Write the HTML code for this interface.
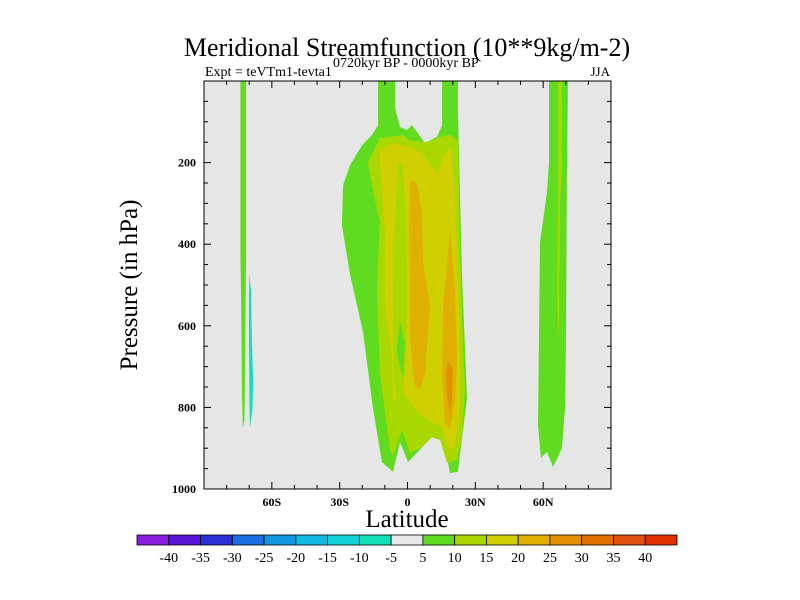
<!DOCTYPE html>
<html><head><meta charset="utf-8"><style>
body{margin:0;background:#fff;}
svg{display:block;font-family:"Liberation Serif",serif;}
</style></head><body>
<svg id="chart" width="800" height="600" viewBox="0 0 800 600">
<text x="407" y="56" font-size="26" text-anchor="middle">Meridional Streamfunction (10**9kg/m-2)</text>
<text x="205" y="76" font-size="14">Expt = teVTm1-tevta1</text>
<text x="333" y="67" font-size="14">0720kyr BP - 0000kyr BP</text>
<text x="610" y="76" font-size="13" text-anchor="end">JJA</text>
<rect x="204" y="81" width="407" height="408" fill="#e6e6e6"/>
<g id="fields"></g>
<rect x="204" y="81" width="407" height="408" fill="none" stroke="#000" stroke-width="1"/>
<g id="axes"></g>
<text x="407" y="527" font-size="25" text-anchor="middle">Latitude</text>
<text transform="translate(137,285) rotate(-90)" font-size="25" text-anchor="middle">Pressure (in hPa)</text>
<g id="colorbar"></g>
</svg>
<script>
const levels = [-40,-35,-30,-25,-20,-15,-10,-5,5,10,15,20,25,30,35,40];
const levelColors = ["#8a1ee0","#5a14d8","#2a30d8","#1a6ee0","#1098e0","#10b8e0","#10d0d8","#10e0b8","#e8e8e8","#60dc20","#a8d800","#d0d000","#e0b000","#e09000","#e07000","#e05010","#e03000"];
const cbLabels = ["-40","-35","-30","-25","-20","-15","-10","-5","5","10","15","20","25","30","35","40"];
const latTicks = [-60,-30,0,30,60];
const latTickLabels = ["60S","30S","0","30N","60N"];
const presTicks = [200,400,600,800,1000];
// contour regions: [level index, [[lat, hPa], ...]]
const regionLevels = [9,10,11,10,9,12,12,13,9,7,9,10];
const regionShapes = [
 [[-13,0],[-13,108],[-15.7,132],[-20.1,157],[-25.4,206],[-28.5,255],[-29,353],[-25.4,475],[-19.7,615],[-15.3,801],[-11.3,934],[-6.4,958],[-3.3,885],[0.2,934],[8.6,885],[14.4,836],[18.8,961],[22.3,958],[26.3,777],[24.1,475],[22.3,66],[22.3,0],[15.3,0],[15.3,108],[13,137],[7.7,152],[2,108],[-0.2,120],[-3.3,113],[-5.5,66],[-5.5,0]],
 [[-17.5,199],[-12.2,140],[-2,132],[1.1,145],[8.6,150],[14.4,137],[18.8,132],[22.3,145],[23.2,414],[24.5,635],[25.4,757],[24.1,873],[21.9,929],[17.5,936],[14.4,880],[10.8,873],[6.4,897],[1.1,912],[-2.4,855],[-6.4,917],[-7.7,904],[-12.2,716],[-13.5,512],[-12.2,348],[-16.6,230]],
 [[-12.2,169],[-6.4,152],[1.1,164],[6.4,176],[10.8,211],[13.5,225],[15.7,186],[18.8,162],[21,284],[23.2,593],[23.2,799],[21,897],[17.9,904],[15.3,848],[10.8,836],[4.6,814],[0.2,782],[-2.4,757],[-6.4,787],[-6.9,676],[-10,544],[-10,365],[-11.3,267],[-12.2,201]],
 [[-4.2,201],[-2,206],[-0.7,341],[-0.2,537],[-0.7,684],[-2,770],[-4.2,782],[-6,733],[-6.4,537],[-5.5,341]],
 [[-3.3,590],[-1.1,640],[-1.9,729],[-4.9,664]],
 [[1.1,243],[4.2,250],[6.4,323],[6.9,446],[10,554],[7.7,716],[5.5,757],[3.3,750],[1.1,635],[1.1,512],[0.7,365]],
 [[18.8,365],[17.5,446],[15.7,554],[15.3,716],[16.6,838],[18.8,855],[21,782],[21.9,677],[21,512]],
 [[17.9,684],[20.1,708],[19.7,782],[18.8,814],[17.5,770],[17,721]],
 [[-73.9,0],[-71.4,0],[-71.4,426],[-71.6,537],[-71.9,733],[-72.1,831],[-72.8,850],[-73.2,782],[-73.6,537],[-73.9,426]],
 [[-69.9,475],[-69.2,512],[-68.8,635],[-68.3,733],[-68.6,806],[-69.7,850],[-69.9,782],[-70.1,635],[-70.1,537]],
 [[62.6,0],[71,0],[70.5,230],[70.1,640],[69.7,801],[68.3,900],[64.4,946],[61.7,909],[59,924],[57.7,843],[58.6,395],[61.7,272],[62.6,200]],
 [[66.7,0],[68.3,0],[68.3,230],[67.4,292],[66.9,640],[66.3,537],[66.7,230]]
];
const NS = "http://www.w3.org/2000/svg";
const X0=204, X1=611, Y0=81, Y1=489;
function xs(lat){return X0+(lat+90)/180*(X1-X0);}
function ys(p){return Y0+p/1000*(Y1-Y0);}
function mk(tag, attrs, parent){const e=document.createElementNS(NS,tag);for(const k in attrs)e.setAttribute(k,attrs[k]);parent.appendChild(e);return e;}
const fields=document.getElementById('fields');
regionShapes.forEach((shape,i)=>{
  const pts=shape.map(d=>xs(d[0]).toFixed(1)+','+ys(d[1]).toFixed(1)).join(' ');
  const el=mk('polygon',{points:pts,fill:levelColors[regionLevels[i]]},fields);
  
  
});
const axes=document.getElementById('axes');
for(let lat=-80;lat<=80;lat+=10){
  const major=lat%30===0;
  const L=major?7:4;
  const x=xs(lat);
  const t1=mk('line',{x1:x,x2:x,y1:Y1,y2:Y1-L,stroke:'#000'},axes);
  
  
  const t2=mk('line',{x1:x,x2:x,y1:Y0,y2:Y0+L,stroke:'#000'},axes);
  
  
}
latTicks.forEach((lat,i)=>{
  const t=mk('text',{x:xs(lat),y:Y1+17,'font-size':12,'font-weight':'bold','text-anchor':'middle'},axes);
  t.textContent=latTickLabels[i];
  
  
});
for(let p=50;p<1000;p+=50){
  const major=p%200===0;
  const L=major?7:4;
  const y=ys(p);
  const t1=mk('line',{x1:X0,x2:X0+L,y1:y,y2:y,stroke:'#000'},axes);
  
  
  const t2=mk('line',{x1:X1,x2:X1-L,y1:y,y2:y,stroke:'#000'},axes);
  
  
}
presTicks.forEach(p=>{
  const t=mk('text',{x:X0-8,y:ys(p)+4,'font-size':12,'font-weight':'bold','text-anchor':'end'},axes);
  t.textContent=String(p);
  
  
});
const cb=document.getElementById('colorbar');
const CBX=137, CBW=540/17, CBY=535, CBH=10;
levelColors.forEach((c,i)=>{
  const r=mk('rect',{x:CBX+i*CBW,y:CBY,width:CBW,height:CBH,fill:c,stroke:'#000','stroke-width':0.8},cb);
  
  
});
cbLabels.forEach((s,i)=>{
  const t=mk('text',{x:CBX+(i+1)*CBW,y:562,'font-size':14,'text-anchor':'middle'},cb);
  t.textContent=s;
  
  
});
</script>
</body></html>
